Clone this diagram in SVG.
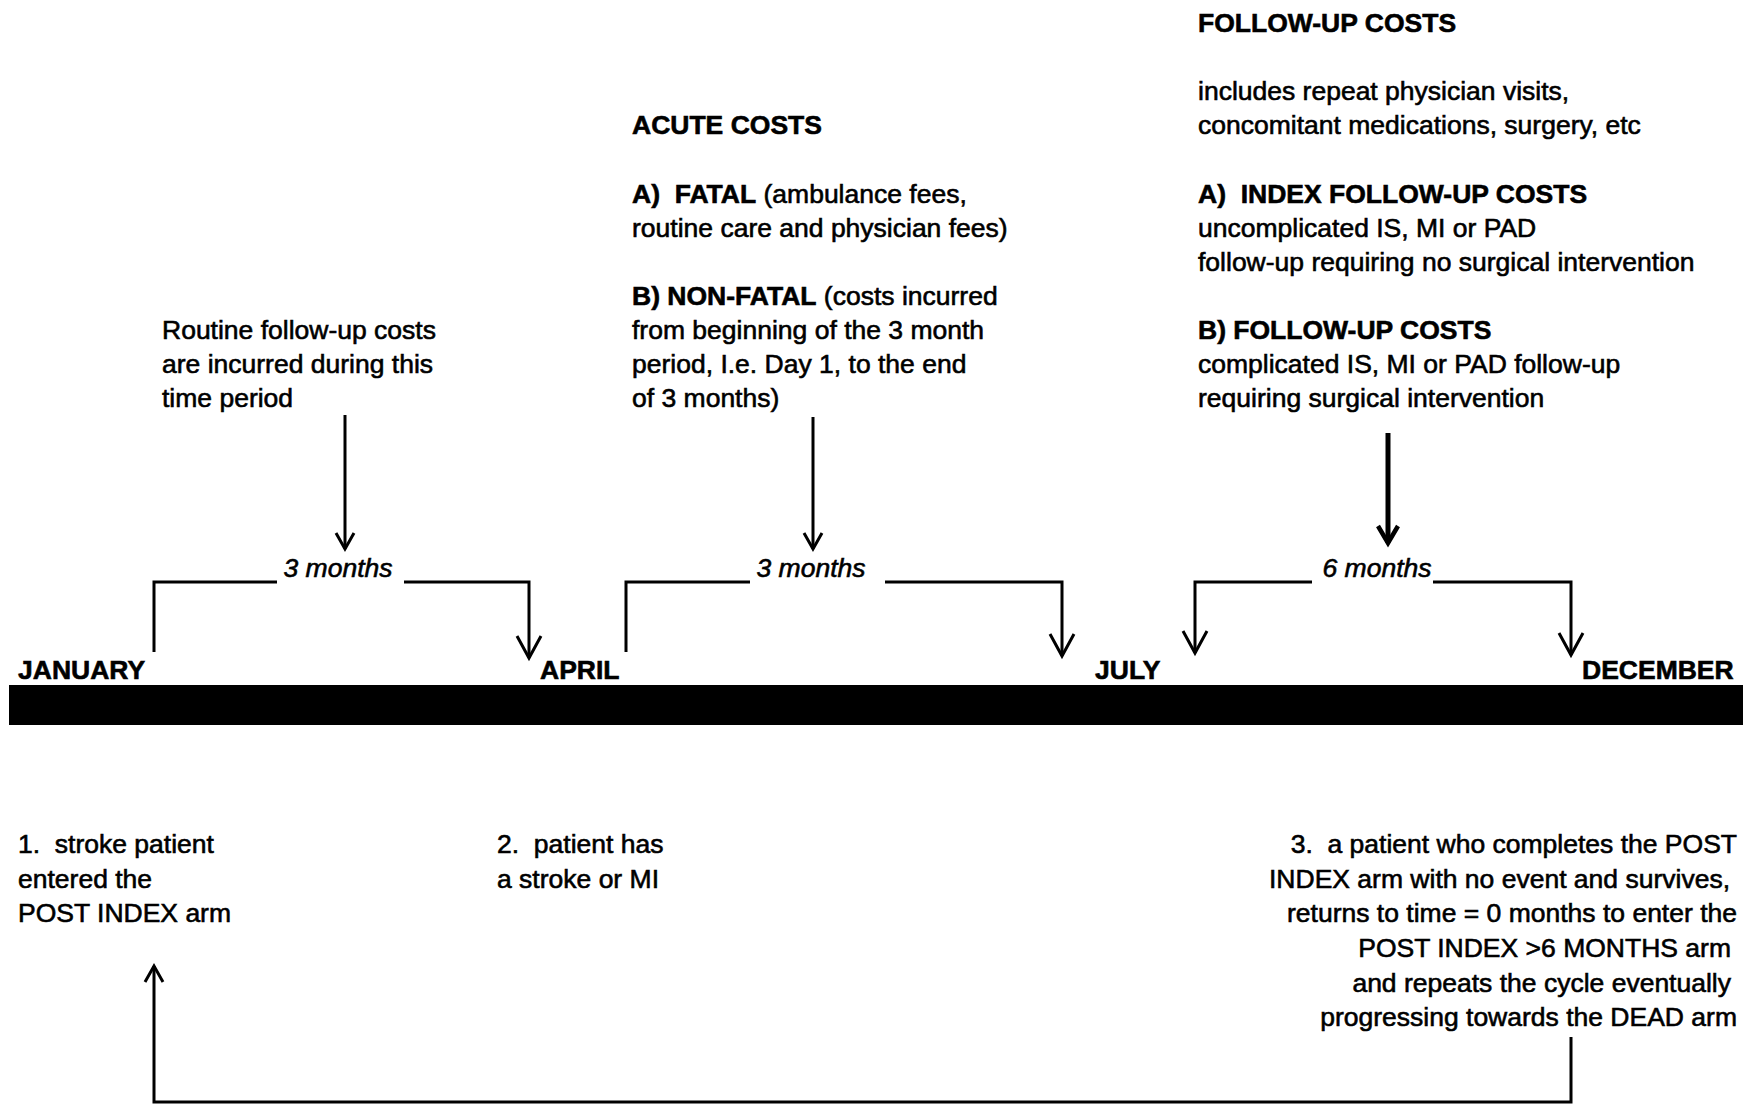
<svg xmlns="http://www.w3.org/2000/svg" width="1749" height="1104" viewBox="0 0 1749 1104">
<style>
text{font-family:"Liberation Sans",Arial,Helvetica,sans-serif;font-size:26.5px;fill:#000;stroke:#000;stroke-width:0.6;white-space:pre}
.b{font-weight:bold}
.i{font-style:italic}
.e{text-anchor:end}
.m{text-anchor:middle}
.ln{fill:none;stroke:#000;stroke-width:3}
.thick{fill:none;stroke:#000;stroke-width:5}
</style>
<defs>
<marker id="vBig" markerUnits="userSpaceOnUse" orient="auto" refX="0" refY="0" overflow="visible">
<path d="M-22,-12 L0,0 L-22,12" fill="none" stroke="#000" stroke-width="3"/>
</marker>
<marker id="vSmall" markerUnits="userSpaceOnUse" orient="auto" refX="0" refY="0" overflow="visible">
<path d="M-16,-9 L0,0 L-16,9" fill="none" stroke="#000" stroke-width="3"/>
</marker>
<marker id="vBold" markerUnits="userSpaceOnUse" orient="auto" refX="0" refY="0" overflow="visible">
<path d="M-17,-10 L0,0 L-17,10" fill="none" stroke="#000" stroke-width="4.5"/>
</marker>
</defs>
<rect width="1749" height="1104" fill="#fff"/>

<g id="timeline">
<rect x="9" y="685" width="1734" height="40" fill="#000"/>
<text class="b" x="18" y="679">JANUARY</text>
<text class="b" x="540" y="679">APRIL</text>
<text class="b" x="1095" y="679">JULY</text>
<text class="b" x="1582" y="679">DECEMBER</text>
</g>

<g id="routine-costs">
<text x="162" y="339">Routine follow-up costs</text>
<text x="162" y="373">are incurred during this</text>
<text x="162" y="407">time period</text>
</g>

<g id="acute-costs">
<text class="b" x="632" y="134">ACUTE COSTS</text>
<text x="632" y="203"><tspan class="b">A)  FATAL</tspan> (ambulance fees,</text>
<text x="632" y="237">routine care and physician fees)</text>
<text x="632" y="305"><tspan class="b">B) NON-FATAL</tspan> (costs incurred</text>
<text x="632" y="339">from beginning of the 3 month</text>
<text x="632" y="373">period, I.e. Day 1, to the end</text>
<text x="632" y="407">of 3 months)</text>
</g>

<g id="follow-up-costs">
<text class="b" x="1198" y="32">FOLLOW-UP COSTS</text>
<text x="1198" y="100">includes repeat physician visits,</text>
<text x="1198" y="134">concomitant medications, surgery, etc</text>
<text class="b" x="1198" y="203">A)  INDEX FOLLOW-UP COSTS</text>
<text x="1198" y="237">uncomplicated IS, MI or PAD</text>
<text x="1198" y="271">follow-up requiring no surgical intervention</text>
<text class="b" x="1198" y="339">B) FOLLOW-UP COSTS</text>
<text x="1198" y="373">complicated IS, MI or PAD follow-up</text>
<text x="1198" y="407">requiring surgical intervention</text>
</g>

<g id="period-labels">
<text class="i m" x="338" y="577">3 months</text>
<text class="i m" x="811" y="577">3 months</text>
<text class="i m" x="1377" y="577">6 months</text>
</g>

<g id="step-1">
<text x="18" y="853">1.  stroke patient</text>
<text x="18" y="888">entered the</text>
<text x="18" y="922">POST INDEX arm</text>
</g>

<g id="step-2">
<text x="497" y="853">2.  patient has</text>
<text x="497" y="888">a stroke or MI</text>
</g>

<g id="step-3">
<text class="e" x="1737" y="853">3.  a patient who completes the POST</text>
<text class="e" x="1730" y="888">INDEX arm with no event and survives,</text>
<text class="e" x="1737" y="922">returns to time = 0 months to enter the</text>
<text class="e" x="1731" y="957">POST INDEX &gt;6 MONTHS arm</text>
<text class="e" x="1731" y="992">and repeats the cycle eventually</text>
<text class="e" x="1737" y="1026">progressing towards the DEAD arm</text>
</g>

<g id="connectors">
<path class="ln" d="M345,415 V549" marker-end="url(#vSmall)"/>
<path class="ln" d="M813,417 V549" marker-end="url(#vSmall)"/>
<path class="thick" d="M1388,433 V543" marker-end="url(#vBold)"/>
<path class="ln" d="M154,652 V582 H277"/>
<path class="ln" d="M404,582 H529 V658" marker-end="url(#vBig)"/>
<path class="ln" d="M626,652 V582 H750"/>
<path class="ln" d="M885,582 H1062 V656" marker-end="url(#vBig)"/>
<path class="ln" d="M1312,582 H1195 V653" marker-end="url(#vBig)"/>
<path class="ln" d="M1433,582 H1571 V655" marker-end="url(#vBig)"/>
<path class="ln" d="M1571,1037 V1102 H154 V966" marker-end="url(#vSmall)"/>
</g>
</svg>
